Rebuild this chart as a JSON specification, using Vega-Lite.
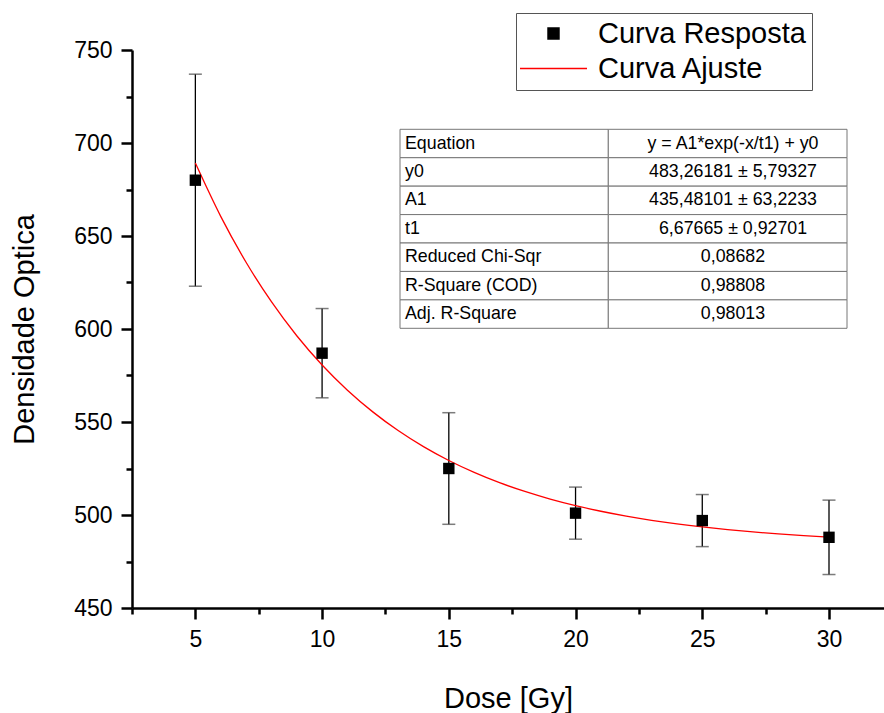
{
  "$schema": "https://vega.github.io/schema/vega-lite/v6.json",
  "width": 752,
  "height": 558,
  "autosize": {"type": "none"},
  "padding": {"left": 132, "top": 50, "right": 0, "bottom": 105},
  "background": "white",
  "config": {"view": {"stroke": null}, "font": "Liberation Sans"},
  "datasets": {
    "measurements": [
      {"dose": 5, "od": 680, "lo": 623, "hi": 737},
      {"dose": 10, "od": 587, "lo": 563, "hi": 611},
      {"dose": 15, "od": 525, "lo": 495, "hi": 555},
      {"dose": 20, "od": 501, "lo": 487, "hi": 515},
      {"dose": 25, "od": 497, "lo": 483, "hi": 511},
      {"dose": 30, "od": 488, "lo": 468, "hi": 508}
    ],
    "fit": [
      {"dose": 5, "od": 689.2}, {"dose": 6, "od": 660.55}, {"dose": 7, "od": 635.89},
      {"dose": 8, "od": 614.66}, {"dose": 9, "od": 596.38}, {"dose": 10, "od": 580.65},
      {"dose": 11, "od": 567.1}, {"dose": 12, "od": 555.44}, {"dose": 13, "od": 545.4},
      {"dose": 14, "od": 536.75}, {"dose": 15, "od": 529.31}, {"dose": 16, "od": 522.91},
      {"dose": 17, "od": 517.39}, {"dose": 18, "od": 512.65}, {"dose": 19, "od": 508.56},
      {"dose": 20, "od": 505.04}, {"dose": 21, "od": 502.01}, {"dose": 22, "od": 499.4},
      {"dose": 23, "od": 497.16}, {"dose": 24, "od": 495.22}, {"dose": 25, "od": 493.56},
      {"dose": 26, "od": 492.13}, {"dose": 27, "od": 490.89}, {"dose": 28, "od": 489.83},
      {"dose": 29, "od": 488.92}, {"dose": 30, "od": 488.13}
    ],
    "table": [
      {"param": "Equation", "value": "y = A1*exp(-x/t1) + y0"},
      {"param": "y0", "value": "483,26181 ± 5,79327"},
      {"param": "A1", "value": "435,48101 ± 63,2233"},
      {"param": "t1", "value": "6,67665 ± 0,92701"},
      {"param": "Reduced Chi-Sqr", "value": "0,08682"},
      {"param": "R-Square (COD)", "value": "0,98808"},
      {"param": "Adj. R-Square", "value": "0,98013"}
    ]
  },
  "resolve": {"scale": {"x": "independent", "y": "independent"}},
  "layer": [
    {
      "layer": [
        {
          "data": {"name": "measurements"},
          "mark": {"type": "rule", "color": "black", "strokeWidth": 1.3},
          "encoding": {
            "x": {
              "field": "dose", "type": "quantitative",
              "scale": {"domain": [2.5, 32.17], "nice": false, "zero": false},
              "axis": {
                "title": "Dose [Gy]",
                "values": [2.5, 5, 7.5, 10, 12.5, 15, 17.5, 20, 22.5, 25, 27.5, 30, 32.5],
                "labelExpr": "datum.value % 5 === 0 ? datum.label : ''",
                "grid": false,
                "domainColor": "black", "domainWidth": 2.5,
                "tickColor": "black", "tickWidth": 2.5,
                "tickSize": {"condition": {"test": "datum.value % 5 !== 0", "value": 6}, "value": 11},
                "labelFontSize": 23, "labelColor": "black", "labelPadding": 9,
                "labelFont": "Liberation Sans", "labelOverlap": false, "labelFlush": false,
                "titleFontSize": 29, "titleFontWeight": "normal", "titleColor": "black",
                "titleFont": "Liberation Sans", "titlePadding": 33
              }
            },
            "y": {
              "field": "lo", "type": "quantitative",
              "scale": {"domain": [450, 750], "nice": false, "zero": false},
              "axis": {
                "title": "Densidade Optica",
                "values": [450, 475, 500, 525, 550, 575, 600, 625, 650, 675, 700, 725, 750],
                "labelExpr": "datum.value % 50 === 0 ? datum.label : ''",
                "grid": false,
                "domainColor": "black", "domainWidth": 2.5,
                "tickColor": "black", "tickWidth": 2.5,
                "tickSize": {"condition": {"test": "datum.value % 50 !== 0", "value": 6}, "value": 11},
                "labelFontSize": 23, "labelColor": "black", "labelPadding": 9,
                "labelFont": "Liberation Sans", "labelOverlap": false, "labelFlush": false,
                "titleFontSize": 29, "titleFontWeight": "normal", "titleColor": "black",
                "titleFont": "Liberation Sans", "titlePadding": 34
              }
            },
            "y2": {"field": "hi"}
          }
        },
        {
          "data": {"name": "measurements"},
          "mark": {"type": "tick", "orient": "horizontal", "size": 13, "thickness": 1.5, "color": "#444"},
          "encoding": {
            "x": {"field": "dose", "type": "quantitative"},
            "y": {"field": "lo", "type": "quantitative"}
          }
        },
        {
          "data": {"name": "measurements"},
          "mark": {"type": "tick", "orient": "horizontal", "size": 13, "thickness": 1.5, "color": "#444"},
          "encoding": {
            "x": {"field": "dose", "type": "quantitative"},
            "y": {"field": "hi", "type": "quantitative"}
          }
        },
        {
          "data": {"name": "fit"},
          "mark": {"type": "line", "strokeWidth": 1.3, "interpolate": "monotone"},
          "encoding": {
            "x": {"field": "dose", "type": "quantitative"},
            "y": {"field": "od", "type": "quantitative"},
            "color": {
              "datum": "Curva Ajuste",
              "scale": {"domain": ["Curva Resposta", "Curva Ajuste"], "range": ["black", "#ff0000"]},
              "legend": {
                "orient": "none", "legendX": 384, "legendY": -37,
                "title": null, "labelFontSize": 29, "labelFont": "Liberation Sans", "labelColor": "black",
                "labelLimit": 500,
                "labelOffset": 30, "symbolOffset": 17, "padding": 6, "rowPadding": 5,
                "strokeColor": "#555", "fillColor": "white",
                "symbolStrokeWidth": 1.5,
                "encode": {
                  "symbols": {
                    "update": {
                      "shape": {"signal": "datum.value === 'Curva Ajuste' ? 'stroke' : 'square'"},
                      "size": {"signal": "datum.value === 'Curva Ajuste' ? 4489 : 120"},
                      "fill": {"signal": "datum.value === 'Curva Ajuste' ? 'transparent' : 'black'"},
                      "stroke": {"signal": "datum.value === 'Curva Ajuste' ? '#ff4444' : 'transparent'"},
                      "strokeWidth": {"value": 1.5},
                      "opacity": {"value": 1}
                    }
                  }
                }
              }
            }
          }
        },
        {
          "data": {"name": "measurements"},
          "mark": {"type": "point", "shape": "square", "filled": true, "size": 130, "opacity": 1},
          "encoding": {
            "x": {"field": "dose", "type": "quantitative"},
            "y": {"field": "od", "type": "quantitative"},
            "color": {"datum": "Curva Resposta"}
          }
        }
      ]
    },
    {
      "data": {"name": "table"},
      "layer": [
        {
          "mark": {"type": "rect", "fill": "white", "stroke": "#777", "strokeWidth": 1},
          "encoding": {
            "x": {"datum": 0, "type": "quantitative", "scale": {"domain": [0, 1], "range": [268, 715], "nice": false, "zero": false}, "axis": null},
            "x2": {"datum": 0.466},
            "y": {"field": "param", "type": "nominal", "sort": null,
                  "scale": {"type": "band", "domain": ["Equation", "y0", "A1", "t1", "Reduced Chi-Sqr", "R-Square (COD)", "Adj. R-Square"], "range": [79.3, 278.3], "paddingInner": 0, "paddingOuter": 0},
                  "axis": null}
          }
        },
        {
          "mark": {"type": "rect", "fill": "white", "stroke": "#777", "strokeWidth": 1},
          "encoding": {
            "x": {"datum": 0.466, "type": "quantitative"},
            "x2": {"datum": 1},
            "y": {"field": "param", "type": "nominal", "sort": null}
          }
        },
        {
          "mark": {"type": "text", "align": "left", "baseline": "middle", "dx": 5, "fontSize": 17.8, "font": "Liberation Sans", "color": "black"},
          "encoding": {
            "x": {"datum": 0, "type": "quantitative"},
            "y": {"field": "param", "type": "nominal", "sort": null},
            "text": {"field": "param"}
          }
        },
        {
          "mark": {"type": "text", "align": "center", "baseline": "middle", "fontSize": 17.8, "font": "Liberation Sans", "color": "black"},
          "encoding": {
            "x": {"datum": 0.745, "type": "quantitative"},
            "y": {"field": "param", "type": "nominal", "sort": null},
            "text": {"field": "value"}
          }
        }
      ]
    }
  ]
}
